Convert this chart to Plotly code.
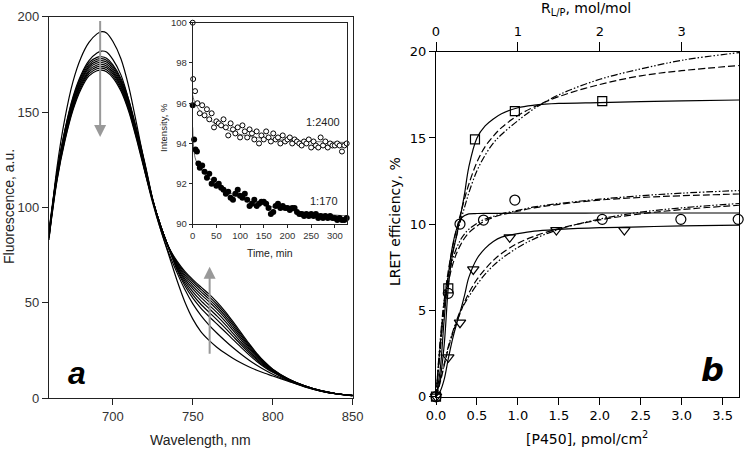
import plotly.graph_objects as go

W, H = 745, 453
def px(x): return x / W
def py(y): return 1 - y / H

# ---------------- Panel a: emission spectra ----------------
wavelength = [660, 665, 670, 675, 680, 685, 690, 693, 696, 700, 705, 710, 715, 720,
              725, 730, 735, 740, 745, 750, 755, 760, 765, 770, 775, 780, 785, 790,
              795, 800, 810, 820, 830, 840, 850]

spec_A = [83, 121, 147, 166, 178.5, 186.5, 191, 192.2, 191.5, 187, 178, 163, 143, 122,
          103, 88, 75, 62, 50.5, 41.5, 35, 30.5, 26.8, 23.7, 21, 18.6, 16.5, 14.7,
          13.1, 11.7, 8.8, 6, 3.8, 2.3, 1.3]
spec_B = [86, 118, 141, 158, 169.5, 177, 181, 182, 181.5, 177.5, 169.5, 156, 138, 119,
          102, 88, 76, 66, 57, 49.5, 43.5, 38.5, 34.2, 30.3, 26.6, 23.2, 20.1, 17.3,
          14.8, 12.6, 9.1, 6.1, 3.8, 2.3, 1.4]
spec_C = [88, 118.6, 140.5, 157.1, 168.6, 175.9, 178.7, 179, 178.2, 174.8, 167.6, 156.1, 140.5, 123.3,
          104, 90, 78.5, 67.5, 59, 52.5, 47.3, 43, 39, 35, 30.9, 26.8, 22.9, 19.3,
          16.2, 13.6, 9.4, 6.2, 3.9, 2.3, 1.4]
spec_D = [87, 118, 139.7, 156.3, 167.7, 174.9, 177.7, 178, 177.2, 173.9, 166.6, 155.2, 139.7, 122.6,
          103.8, 89.8, 78.5, 68.2, 60.3, 54.2, 49.3, 45.2, 41.2, 37, 32.6, 28.2, 24, 20.1,
          16.7, 13.9, 9.5, 6.3, 3.9, 2.3, 1.4]
spec_E = [86.5, 117.3, 138.9, 155.4, 166.7, 173.9, 176.7, 177, 176.2, 172.9, 165.7, 154.4, 138.9, 121.9,
          103.7, 89.9, 78.6, 68.9, 61.5, 55.8, 51.2, 47.2, 43.2, 38.9, 34.2, 29.5, 25, 20.8,
          17.2, 14.2, 9.6, 6.3, 3.9, 2.4, 1.4]
spec_F = [86, 116.7, 138.1, 154.5, 165.8, 172.9, 175.7, 176, 175.2, 171.9, 164.8, 153.5, 138.1, 121.3,
          103.5, 89.9, 78.7, 69.5, 62.6, 57.3, 52.9, 49, 45, 40.6, 35.7, 30.7, 25.9, 21.5,
          17.6, 14.4, 9.7, 6.4, 4, 2.4, 1.5]
spec_G = [85.5, 116, 137.3, 153.6, 164.8, 171.9, 174.7, 175, 174.2, 170.9, 163.8, 152.6, 137.3, 120.6,
          103.4, 90, 78.8, 70.2, 63.7, 58.7, 54.5, 50.7, 46.6, 42.1, 37, 31.8, 26.7, 22.1,
          18, 14.7, 9.8, 6.4, 4, 2.4, 1.5]
spec_H = [85, 115.3, 136.6, 152.8, 163.9, 171, 173.7, 174, 173.2, 170, 162.9, 151.7, 136.6, 119.9,
          103.3, 90, 78.9, 70.8, 64.7, 60, 55.9, 52.1, 48, 43.4, 38.2, 32.8, 27.5, 22.6,
          18.4, 14.9, 9.9, 6.5, 4, 2.4, 1.5]
spec_I = [84.5, 114.7, 135.8, 151.9, 162.9, 170, 172.7, 173, 172.2, 169, 161.9, 150.9, 135.8, 119.2,
          103.2, 90, 79, 71.4, 65.7, 61.2, 57.2, 53.4, 49.3, 44.6, 39.3, 33.7, 28.2, 23.1,
          18.7, 15.1, 10, 6.5, 4, 2.4, 1.5]
spec_J = [84, 114, 135, 151, 162, 169, 171.7, 172, 171.2, 168, 161, 150, 135, 118.5,
          103, 90, 79, 72, 66.5, 62.2, 58.4, 54.7, 50.5, 45.7, 40.3, 34.6, 28.9, 23.6,
          19, 15.3, 10.1, 6.5, 4, 2.4, 1.5]
spectra = [spec_A, spec_B, spec_C, spec_D, spec_E, spec_F, spec_G, spec_H, spec_I, spec_J]

# ---------------- Inset: kinetics ----------------
t_2400 = [0, 1, 5, 10, 15, 20, 25, 30, 35, 40, 45, 50, 55, 60, 65, 70, 75, 80, 85, 90,
          95, 100, 105, 110, 115, 120, 125, 130, 135, 140, 145, 150, 155, 160, 165, 170,
          175, 180, 185, 190, 195, 200, 205, 210, 215, 220, 225, 230, 235, 240, 245, 250,
          255, 260, 265, 270, 275, 280, 285, 290, 295, 300, 305, 310, 315, 320, 325]
i_2400 = [100, 97.2, 96.6, 96.0, 95.5, 95.9, 95.4, 95.7, 95.2, 95.5,
          94.8, 95.1, 95.0, 94.9, 95.2, 94.8, 94.4, 95.0, 94.7, 94.5,
          94.8, 94.3, 94.9, 94.6, 94.3, 94.7, 94.5, 94.2, 94.6, 94.0,
          94.4, 94.2, 94.6, 94.3, 94.1, 94.5, 94.2, 94.3, 94.0, 94.4,
          94.1, 94.2, 94.3, 94.0, 94.2, 94.1, 94.0, 93.9, 94.1, 94.0,
          94.2, 93.8, 94.1, 93.9, 93.8, 94.3, 93.9, 94.1, 93.8, 94.0,
          93.9, 93.9, 94.0, 93.9, 93.6, 93.9, 94.0]
t_170 = [0, 3, 6, 9, 12, 15, 20, 25, 30, 35, 40, 45, 50, 55, 60, 65, 70, 75, 80, 85,
         90, 95, 100, 105, 110, 115, 120, 125, 130, 135, 140, 145, 150, 155, 160, 165,
         170, 175, 180, 185, 190, 195, 200, 205, 210, 215, 220, 225, 230, 235, 240, 245,
         250, 255, 260, 265, 270, 275, 280, 285, 290, 295, 300, 305, 310, 315, 320, 325]
i_170 = [95.9, 94.2, 93.7, 93.6, 93.0, 92.8,
         92.9, 92.6, 92.3, 92.5, 92.0, 92.2, 91.9, 92.0, 91.8, 91.7,
         91.5, 91.6, 91.3, 91.2, 91.5, 91.7, 91.4, 91.3, 91.5, 91.2,
         90.9, 91.0, 91.2, 90.9, 91.0, 91.1, 91.1, 91.0, 90.8, 90.5,
         90.6, 90.9, 91.0, 90.8, 90.9, 90.8, 90.8, 90.7, 90.8, 90.8,
         90.6, 90.5, 90.5, 90.4, 90.5, 90.4, 90.5, 90.4, 90.5, 90.3,
         90.4, 90.3, 90.4, 90.3, 90.4, 90.3, 90.3, 90.2, 90.3, 90.2, 90.2, 90.3]
t_fit = [0, 2, 5, 10, 25, 50, 75, 100, 150, 200, 250, 325]
fit_2400 = [96.4, 96.2, 96.0, 95.8, 95.35, 94.95, 94.65, 94.45, 94.25, 94.15, 94.1, 94.05]
fit_170 = [94.8, 93.8, 93.3, 93.0, 92.5, 92.0, 91.6, 91.3, 90.95, 90.7, 90.55, 90.4]

# ---------------- Panel b: LRET efficiency ----------------
sq_x = [0, 0.15, 0.476, 0.963, 2.03]
sq_y = [0, 6.28, 14.92, 16.56, 17.14]
ci_x = [0, 0.15, 0.293, 0.58, 0.963, 2.03, 2.99, 3.69]
ci_y = [0, 5.99, 10.01, 10.24, 11.4, 10.28, 10.28, 10.28]
tr_x = [0, 0.15, 0.293, 0.455, 0.9, 1.47, 2.30]
tr_y = [0, 2.28, 4.29, 7.38, 9.24, 9.66, 9.66]
rlp_ticks = [0, 1, 2, 3]

fit_x = [0, 0.05, 0.1, 0.15, 0.2, 0.25, 0.3, 0.35, 0.4, 0.5, 0.6, 0.7, 0.8, 1.0,
         1.2, 1.5, 2.0, 2.5, 3.0, 3.7]
sq_solid = [0, 1.0, 3.0, 6.3, 8.2, 9.3, 10.5, 11.8, 13.3, 15.0, 15.7, 16.1, 16.4, 16.75,
            16.9, 17.0, 17.05, 17.1, 17.15, 17.2]
sq_dash = [0, 2.8, 5.5, 7.3, 8.6, 9.7, 10.6, 11.5, 12.3, 13.6, 14.5, 15.1, 15.6, 16.3,
           16.8, 17.4, 18.1, 18.6, 18.9, 19.2]
sq_ddot = [0, 2.6, 5.2, 7.0, 8.3, 9.3, 10.2, 11.0, 11.8, 13.1, 14.0, 14.7, 15.2, 16.0,
           16.7, 17.5, 18.4, 19.0, 19.5, 19.95]
ci_solid = [0, 1.5, 4.5, 7.0, 8.7, 9.7, 10.3, 10.5, 10.6, 10.62, 10.63, 10.63, 10.63, 10.64,
            10.64, 10.64, 10.65, 10.65, 10.65, 10.65]
ci_dash = [0, 3.0, 5.2, 6.6, 7.6, 8.3, 8.8, 9.2, 9.5, 9.9, 10.2, 10.4, 10.55, 10.75,
           10.95, 11.15, 11.4, 11.55, 11.65, 11.75]
ci_ddot = [0, 3.2, 5.6, 7.0, 7.9, 8.6, 9.1, 9.45, 9.7, 10.05, 10.3, 10.45, 10.6, 10.8,
           11.0, 11.2, 11.45, 11.65, 11.8, 11.95]
tr_solid = [0, 0.3, 1.0, 2.2, 3.3, 4.2, 5.0, 5.9, 6.9, 8.0, 8.6, 9.0, 9.25, 9.45,
            9.6, 9.7, 9.8, 9.85, 9.9, 9.95]
tr_dash = [0, 0.8, 1.8, 2.8, 3.6, 4.3, 4.9, 5.5, 6.0, 6.8, 7.4, 7.9, 8.3, 8.9,
           9.3, 9.75, 10.25, 10.6, 10.85, 11.1]
tr_ddot = [0, 0.9, 1.9, 2.9, 3.7, 4.4, 5.0, 5.4, 5.8, 6.5, 7.1, 7.6, 8.0, 8.65,
           9.15, 9.7, 10.3, 10.7, 10.95, 11.2]

fig = go.Figure()

for s in spectra:
    fig.add_trace(go.Scatter(x=wavelength, y=s, mode="lines",
                             line=dict(color="black", width=1.2, shape="spline", smoothing=0.8),
                             xaxis="x", yaxis="y", hoverinfo="skip"))

fig.add_trace(go.Scatter(x=t_fit, y=fit_2400, mode="lines", line=dict(color="#444", width=0.8, shape="spline"),
                         xaxis="x2", yaxis="y2"))
fig.add_trace(go.Scatter(x=t_fit, y=fit_170, mode="lines", line=dict(color="#444", width=0.8, shape="spline"),
                         xaxis="x2", yaxis="y2"))
fig.add_trace(go.Scatter(x=t_170, y=i_170, mode="markers", cliponaxis=False,
                         marker=dict(symbol="circle", size=6, color="black", line=dict(width=0)),
                         xaxis="x2", yaxis="y2"))
fig.add_trace(go.Scatter(x=t_2400, y=i_2400, mode="markers", cliponaxis=False,
                         marker=dict(symbol="circle", size=5, color="white", line=dict(color="black", width=1)),
                         xaxis="x2", yaxis="y2"))

dash_style = "7px,3px"
ddot_style = "7px,2px,1.5px,2px,1.5px,2px"
for ys, dash in [(sq_solid, "solid"), (sq_dash, dash_style), (sq_ddot, ddot_style),
                 (ci_solid, "solid"), (ci_dash, dash_style), (ci_ddot, ddot_style),
                 (tr_solid, "solid"), (tr_dash, dash_style), (tr_ddot, ddot_style)]:
    fig.add_trace(go.Scatter(x=fit_x, y=ys, mode="lines",
                             line=dict(color="black", width=1.2, dash=dash, shape="spline"),
                             xaxis="x3", yaxis="y3"))

for xs, ys, sym, sz in [(sq_x, sq_y, "square-open", 9), (ci_x, ci_y, "circle-open", 10),
                        (tr_x, tr_y, "triangle-down-open", 10)]:
    fig.add_trace(go.Scatter(x=xs, y=ys, mode="markers", cliponaxis=False,
                             marker=dict(symbol=sym, size=sz, color="black", line=dict(width=1.2)),
                             xaxis="x3", yaxis="y3"))

# invisible trace so the top R_L/P axis is drawn
fig.add_trace(go.Scatter(x=rlp_ticks, y=[None] * len(rlp_ticks), mode="markers",
                         marker=dict(opacity=0), xaxis="x4", yaxis="y3", hoverinfo="skip"))

axA = dict(showline=True, linecolor="#222", linewidth=1.2, ticks="outside", tickcolor="#222",
           showgrid=False, zeroline=False, automargin=False,
           tickfont=dict(family="Liberation Sans, Arial", size=13, color="#333"))
axI = dict(showline=True, linecolor="#222", linewidth=1, ticks="outside", tickcolor="#222", ticklen=3,
           showgrid=False, zeroline=False, mirror=True, automargin=False,
           tickfont=dict(family="Liberation Sans, Arial", size=9.5, color="#333"))
axB = dict(showline=True, linecolor="black", linewidth=1.2, ticks="outside", tickcolor="black",
           showgrid=False, zeroline=False, automargin=False,
           tickfont=dict(family="DejaVu Sans", size=13, color="black"))

fig.update_layout(
    width=W, height=H, autosize=False,
    margin=dict(l=0, r=0, t=0, b=0, pad=0, autoexpand=False),
    paper_bgcolor="white", plot_bgcolor="white", showlegend=False,
    xaxis=dict(axA, domain=[px(49), px(352.7)], range=[660, 850], tickvals=[700, 750, 800, 850],
               ticklen=6, mirror=True, anchor="y"),
    yaxis=dict(axA, domain=[py(398.3), py(16.7)], range=[0, 200], tickvals=[0, 50, 100, 150, 200],
               ticklen=6, mirror=True, anchor="x"),
    xaxis2=dict(axI, domain=[px(192.7), px(346.7)], range=[0, 325],
                tickvals=[0, 50, 100, 150, 200, 250, 300], anchor="y2"),
    yaxis2=dict(axI, domain=[py(224), py(22.7)], range=[90, 100],
                tickvals=[90, 92, 94, 96, 98, 100], anchor="x2"),
    xaxis3=dict(axB, domain=[px(436), px(739)], range=[0, 3.7],
                tickvals=[0, 0.5, 1, 1.5, 2, 2.5, 3, 3.5], tickformat=".1f", ticklen=7, anchor="y3"),
    xaxis4=dict(axB, domain=[px(436), px(739)], range=[0, 3.7], tickvals=rlp_ticks, ticklen=9,
                side="top", overlaying="x3", anchor="y3"),
    yaxis3=dict(axB, domain=[py(396.7), py(51.7)], range=[0, 20], tickvals=[0, 5, 10, 15, 20],
                ticklen=6, mirror=True, anchor="x3"),
)

fA = dict(family="Liberation Sans, Arial", color="#222")
fB = dict(family="DejaVu Sans", color="black")
ann = [
    dict(text="Fluorescence, a.u.", x=px(9), y=py(207), textangle=-90, font=dict(fA, size=14)),
    dict(text="Wavelength, nm", x=px(201), y=py(440), font=dict(fA, size=14)),
    dict(text="Intensity, %", x=px(163), y=py(128), textangle=-90, font=dict(fA, size=9.5)),
    dict(text="Time, min", x=px(270), y=py(253), font=dict(fA, size=10.5)),
    dict(text="1:2400", x=px(322.7), y=py(121.7), font=dict(fA, size=11)),
    dict(text="1:170", x=px(324.3), y=py(201), font=dict(fA, size=11)),
    dict(text="<b><i>a</i></b>", x=px(77), y=py(373), font=dict(fA, size=32, color="black")),
    dict(text="LRET efficiency, %", x=px(395), y=py(222), textangle=-90, font=dict(fB, size=14)),
    dict(text="[P450], pmol/cm<sup>2</sup>", x=px(587), y=py(438), font=dict(fB, size=14)),
    dict(text="R<sub>L/P</sub>, mol/mol", x=px(586), y=py(9), font=dict(fB, size=14)),
    dict(text="<b><i>b</i></b>", x=px(712), y=py(370), font=dict(fB, size=32)),
]
for a in ann:
    a.update(xref="paper", yref="paper", showarrow=False, xanchor="center", yanchor="middle")
    fig.add_annotation(**a)

# grey arrows in panel a
fig.add_annotation(x=692, y=137, ax=692, ay=198.5, xref="x", yref="y", axref="x", ayref="y",
                   showarrow=True, arrowhead=2, arrowsize=1.2, arrowwidth=2, arrowcolor="#999", text="")
fig.add_annotation(x=760.5, y=69, ax=760.5, ay=22.5, xref="x", yref="y", axref="x", ayref="y",
                   showarrow=True, arrowhead=2, arrowsize=1.2, arrowwidth=2, arrowcolor="#999", text="")

fig.write_html("out.html", config={"displayModeBar": False},
               post_script="document.body.style.margin='0px';")
